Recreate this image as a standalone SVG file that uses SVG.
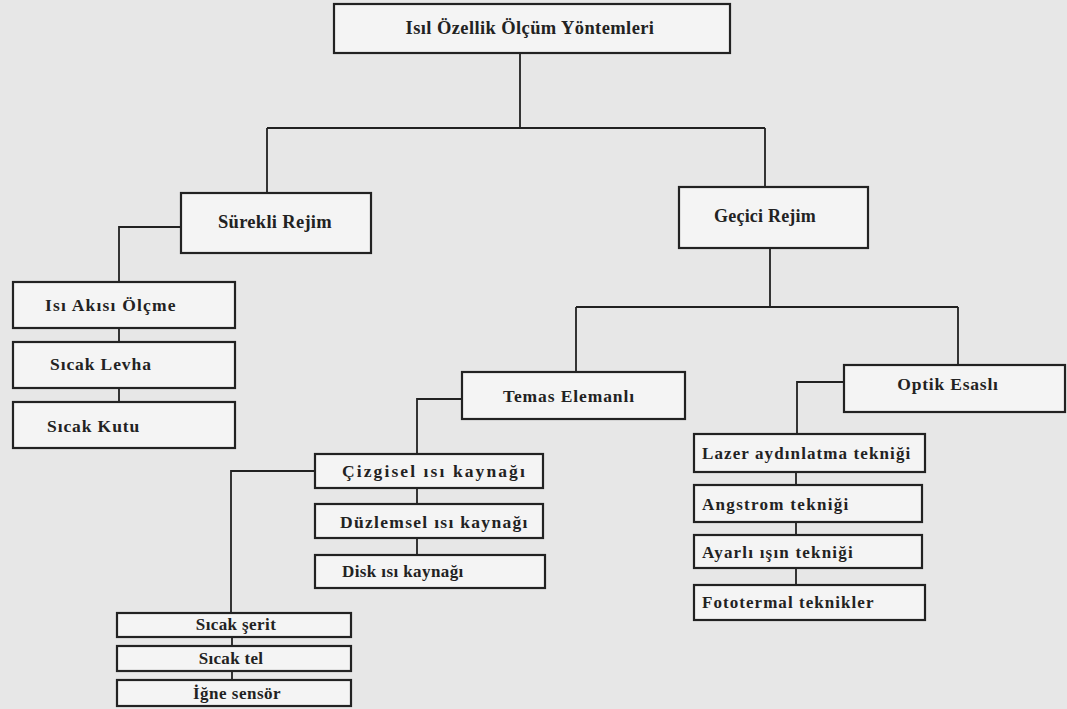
<svg xmlns="http://www.w3.org/2000/svg" width="1067" height="709" viewBox="0 0 1067 709">
<style>
.b{fill:#f4f4f4;stroke:#222;stroke-width:2.2}
.c{fill:none;stroke:#222;stroke-width:1.8}
text{font-family:"Liberation Serif","Times New Roman",serif;font-weight:bold;fill:#222}
.m{text-anchor:middle}
</style>
<rect width="1067" height="709" fill="#e7e7e7"/>
<g id="connectors">
<path class="c" d="M520 53V128M267 128H765M267 128V193M765 128V187"/>
<path class="c" d="M181 227H119V282M119 328V342M119 388V402"/>
<path class="c" d="M770 248V307M576 307H958M576 307V372M958 307V365"/>
<path class="c" d="M462 399H417V454M417 488V504M417 538V555"/>
<path class="c" d="M315 471H231V613M232 637V646M232 671V680"/>
<path class="c" d="M844 382H797V434M796 472V485M796 522V535M796 568V585"/>
</g>
<g id="root"><rect class="b" x="334" y="4" width="396" height="49"/><text class="m" x="530" y="34" style="font-size:18.5px" letter-spacing="0.4">Isıl Özellik Ölçüm Yöntemleri</text></g>
<g id="surekli"><rect class="b" x="181" y="193" width="190" height="60"/><text class="m" x="275" y="228" style="font-size:18.5px" letter-spacing="0.3">Sürekli Rejim</text></g>
<g id="isiakisi"><rect class="b" x="13" y="282" width="222" height="46"/><text x="45" y="311" style="font-size:17.5px" letter-spacing="1.2">Isı Akısı Ölçme</text></g>
<g id="levha"><rect class="b" x="13" y="342" width="222" height="46"/><text x="50" y="370" style="font-size:17.5px" letter-spacing="0.9">Sıcak Levha</text></g>
<g id="kutu"><rect class="b" x="13" y="402" width="222" height="46"/><text x="47" y="432" style="font-size:17.5px" letter-spacing="0.9">Sıcak Kutu</text></g>
<g id="gecici"><rect class="b" x="679" y="187" width="189" height="61"/><text class="m" x="765" y="222" style="font-size:18px" letter-spacing="0.2">Geçici Rejim</text></g>
<g id="temas"><rect class="b" x="462" y="372" width="223" height="47"/><text class="m" x="569" y="402" style="font-size:17.5px" letter-spacing="0.9">Temas Elemanlı</text></g>
<g id="optik"><rect class="b" x="844" y="365" width="221" height="47"/><text class="m" x="948" y="390" style="font-size:17.5px" letter-spacing="0.8">Optik Esaslı</text></g>
<g id="lazer"><rect class="b" x="694" y="434" width="231" height="38"/><text x="702" y="459" style="font-size:17px" letter-spacing="1.1">Lazer aydınlatma tekniği</text></g>
<g id="angstrom"><rect class="b" x="694" y="485" width="228" height="37"/><text x="702" y="510" style="font-size:17px" letter-spacing="1.3">Angstrom tekniği</text></g>
<g id="ayarli"><rect class="b" x="694" y="535" width="228" height="33"/><text x="702" y="558" style="font-size:17px" letter-spacing="1.2">Ayarlı ışın tekniği</text></g>
<g id="fototermal"><rect class="b" x="694" y="585" width="231" height="35"/><text x="702" y="608" style="font-size:17px" letter-spacing="1.05">Fototermal teknikler</text></g>
<g id="cizgisel"><rect class="b" x="315" y="454" width="228" height="34"/><text x="342" y="477" style="font-size:17.5px" letter-spacing="2.1">Çizgisel ısı kaynağı</text></g>
<g id="duzlemsel"><rect class="b" x="315" y="504" width="228" height="34"/><text x="340" y="528" style="font-size:17.5px" letter-spacing="1.3">Düzlemsel ısı kaynağı</text></g>
<g id="disk"><rect class="b" x="315" y="555" width="230" height="33"/><text x="342" y="577" style="font-size:17px" letter-spacing="0.4">Disk ısı kaynağı</text></g>
<g id="serit"><rect class="b" x="117" y="613" width="234" height="24"/><text class="m" x="236" y="630" style="font-size:17px" letter-spacing="0.4">Sıcak şerit</text></g>
<g id="tel"><rect class="b" x="117" y="646" width="234" height="25"/><text class="m" x="231" y="664" style="font-size:17px" letter-spacing="0.3">Sıcak tel</text></g>
<g id="igne"><rect class="b" x="117" y="680" width="234" height="26"/><text class="m" x="237" y="699" style="font-size:17px" letter-spacing="0.5">İğne sensör</text></g>
</svg>
